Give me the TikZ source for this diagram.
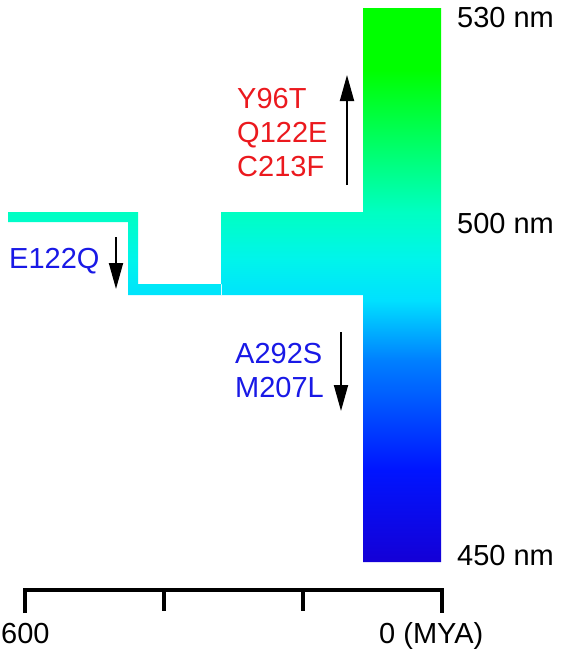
\documentclass[tikz,border=0pt]{standalone}
\usepackage{fontspec}
\setmainfont{Liberation Sans}
\usetikzlibrary{arrows.meta,positioning}

\definecolor{mutred}{RGB}{235,25,30}
\definecolor{mutblue}{RGB}{25,25,230}
\pgfdeclareverticalshading{spectrum}{100bp}{rgb(0bp)=(0.08,0,0.84); rgb(25bp)=(0.08,0,0.84);
  rgb(33.3bp)=(0,0.08,1); rgb(43.2bp)=(0,0.5,1); rgb(48.6bp)=(0,0.88,1);
  rgb(52.4bp)=(0,0.96,0.92); rgb(56.6bp)=(0,1,0.76); rgb(69.4bp)=(0,1,0);
  rgb(75bp)=(0,1,0); rgb(100bp)=(0,1,0)}

\begin{document}
\begin{tikzpicture}[x=1pt,y=-1pt,>=Latex]
  \tikzstyle{lbl}=[inner sep=0pt,font=\fontsize{29}{34}\selectfont]
  \tikzstyle{mut}=[lbl,align=left,anchor=north west]
  \tikzstyle{shiftarrow}=[line width=1.8pt,-{Triangle[length=26pt,width=14pt]}]
  \tikzstyle{axisline}=[line width=4pt]
  \useasboundingbox (0,0) rectangle (564,649);

  % spectrum bar, opsin lineage and the branch block
  \begin{scope}
    \clip (363,8) rectangle (441,562)
      (221,212) rectangle (363,295)
      (8,212) -- (138,212) -- (138,284) -- (222,284) -- (222,295) -- (128,295) -- (128,222) -- (8,222) -- cycle;
    \shade[shading=spectrum] (8,8) rectangle (441,562);
  \end{scope}

  % wavelength labels
  \node[lbl,anchor=base west] (nm530) at (457,27) {530 nm};
  \node[lbl,anchor=base west] (nm500) at (457,233) {500 nm};
  \node[lbl,anchor=base west] (nm450) at (457,565) {450 nm};

  % mutations
  \node[lbl,anchor=base west,text=mutblue] (e122q) at (9,268) {E122Q};
  \node[mut,text=mutred] (redshift) at (237,88) {Y96T\\Q122E\\C213F};
  \node[mut,text=mutblue] (blueshift) at (235,343) {A292S\\M207L};

  \coordinate (e122q top) at (116,237);
  \coordinate (e122q tip) at (116,289);
  \coordinate (red bottom) at (347,185);
  \coordinate (red tip) at (347,75);
  \coordinate (blue top) at (341,332);
  \coordinate (blue tip) at (341,411);
  \draw[shiftarrow] (e122q top) -- (e122q tip);
  \draw[shiftarrow] (red bottom) -- (red tip);
  \draw[shiftarrow] (blue top) -- (blue tip);

  % time axis
  \coordinate (t600) at (25,590);
  \coordinate (t400) at (164,590);
  \coordinate (t200) at (303,590);
  \coordinate (t0) at (442,590);
  \draw[axisline] ([yshift=-23pt]t600) -- (t600) -- (t0) -- ([yshift=-23pt]t0);
  \draw[axisline] (t400) -- ([yshift=-21pt]t400);
  \draw[axisline] (t200) -- ([yshift=-21pt]t200);
  \node[lbl,anchor=base west] (ago600) at (1,643) {600};
  \node[lbl,anchor=base west] (ago0) at (379,643) {0 (MYA)};
\end{tikzpicture}
\end{document}
